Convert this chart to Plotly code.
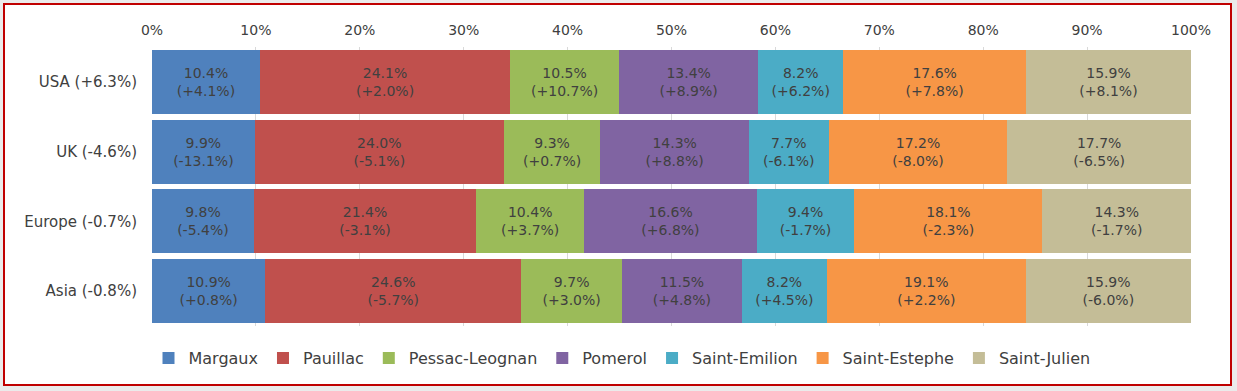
import plotly.graph_objects as go

regions = ["USA (+6.3%)", "UK (-4.6%)", "Europe (-0.7%)", "Asia (-0.8%)"]
appellations = ["Margaux", "Pauillac", "Pessac-Leognan", "Pomerol", "Saint-Emilion", "Saint-Estephe", "Saint-Julien"]
colors = ["#4F81BD", "#C0504D", "#9BBB59", "#8064A2", "#4BACC6", "#F79646", "#C4BD97"]

margaux_share = [10.4, 9.9, 9.8, 10.9]
margaux_chg = ["+4.1", "-13.1", "-5.4", "+0.8"]
pauillac_share = [24.1, 24.0, 21.4, 24.6]
pauillac_chg = ["+2.0", "-5.1", "-3.1", "-5.7"]
pessac_share = [10.5, 9.3, 10.4, 9.7]
pessac_chg = ["+10.7", "+0.7", "+3.7", "+3.0"]
pomerol_share = [13.4, 14.3, 16.6, 11.5]
pomerol_chg = ["+8.9", "+8.8", "+6.8", "+4.8"]
emilion_share = [8.2, 7.7, 9.4, 8.2]
emilion_chg = ["+6.2", "-6.1", "-1.7", "+4.5"]
estephe_share = [17.6, 17.2, 18.1, 19.1]
estephe_chg = ["+7.8", "-8.0", "-2.3", "+2.2"]
julien_share = [15.9, 17.7, 14.3, 15.9]
julien_chg = ["+8.1", "-6.5", "-1.7", "-6.0"]

shares = [margaux_share, pauillac_share, pessac_share, pomerol_share, emilion_share, estephe_share, julien_share]
changes = [margaux_chg, pauillac_chg, pessac_chg, pomerol_chg, emilion_chg, estephe_chg, julien_chg]

FONT = "'DejaVu Sans', sans-serif"
TXT = "#404040"

fig = go.Figure()
for name, col, s, c in zip(appellations, colors, shares, changes):
    fig.add_trace(go.Bar(
        y=regions, x=s, name=name, orientation="h",
        marker=dict(color=col, line=dict(width=0)),
        text=[f"{v:.1f}%<br>({d}%)" for v, d in zip(s, c)],
        textposition="inside", insidetextanchor="middle", textangle=0,
        textfont=dict(family=FONT, size=14, color=TXT),
        hoverinfo="skip",
    ))

W, H = 1237, 391
L, R, T, B = 152, 46, 47, 65
pw, ph = W - L - R, H - T - B

def px(x):
    return (x - L) / pw

def py(y):
    return (H - B - y) / ph

fig.update_layout(
    barmode="stack", barnorm="percent", bargap=0.085,
    width=W, height=H,
    margin=dict(l=L, r=R, t=T, b=B, autoexpand=False),
    paper_bgcolor="#EBEBEB", plot_bgcolor="rgba(0,0,0,0)",
    font=dict(family=FONT, size=15, color=TXT),
    uniformtext=dict(minsize=13, mode="show"),
    xaxis=dict(side="top", range=[0, 100], dtick=10, ticksuffix="%",
               showgrid=True, gridcolor="#D9D9D9", gridwidth=1,
               zeroline=False, showline=False, ticks="",
               ticklabelstandoff=8, tickfont=dict(size=14, color=TXT)),
    yaxis=dict(autorange="reversed", showgrid=False, showline=False, ticks="",
               ticklabelstandoff=14, tickfont=dict(size=15, color=TXT)),
    legend=dict(orientation="h", x=px(622), xanchor="center", y=py(358), yanchor="middle",
                font=dict(size=16, color=TXT), bgcolor="rgba(0,0,0,0)",
                itemwidth=30, traceorder="normal"),
    showlegend=True,
    shapes=[dict(type="rect", xref="paper", yref="paper",
                 x0=px(4), x1=px(1231), y0=py(385), y1=py(4),
                 fillcolor="white", line=dict(color="#C00000", width=2), layer="below")],
)

fig.write_html("out.html",
               config={"displayModeBar": False},
               post_script="document.body.style.margin='0';document.body.style.background='#EBEBEB';")
